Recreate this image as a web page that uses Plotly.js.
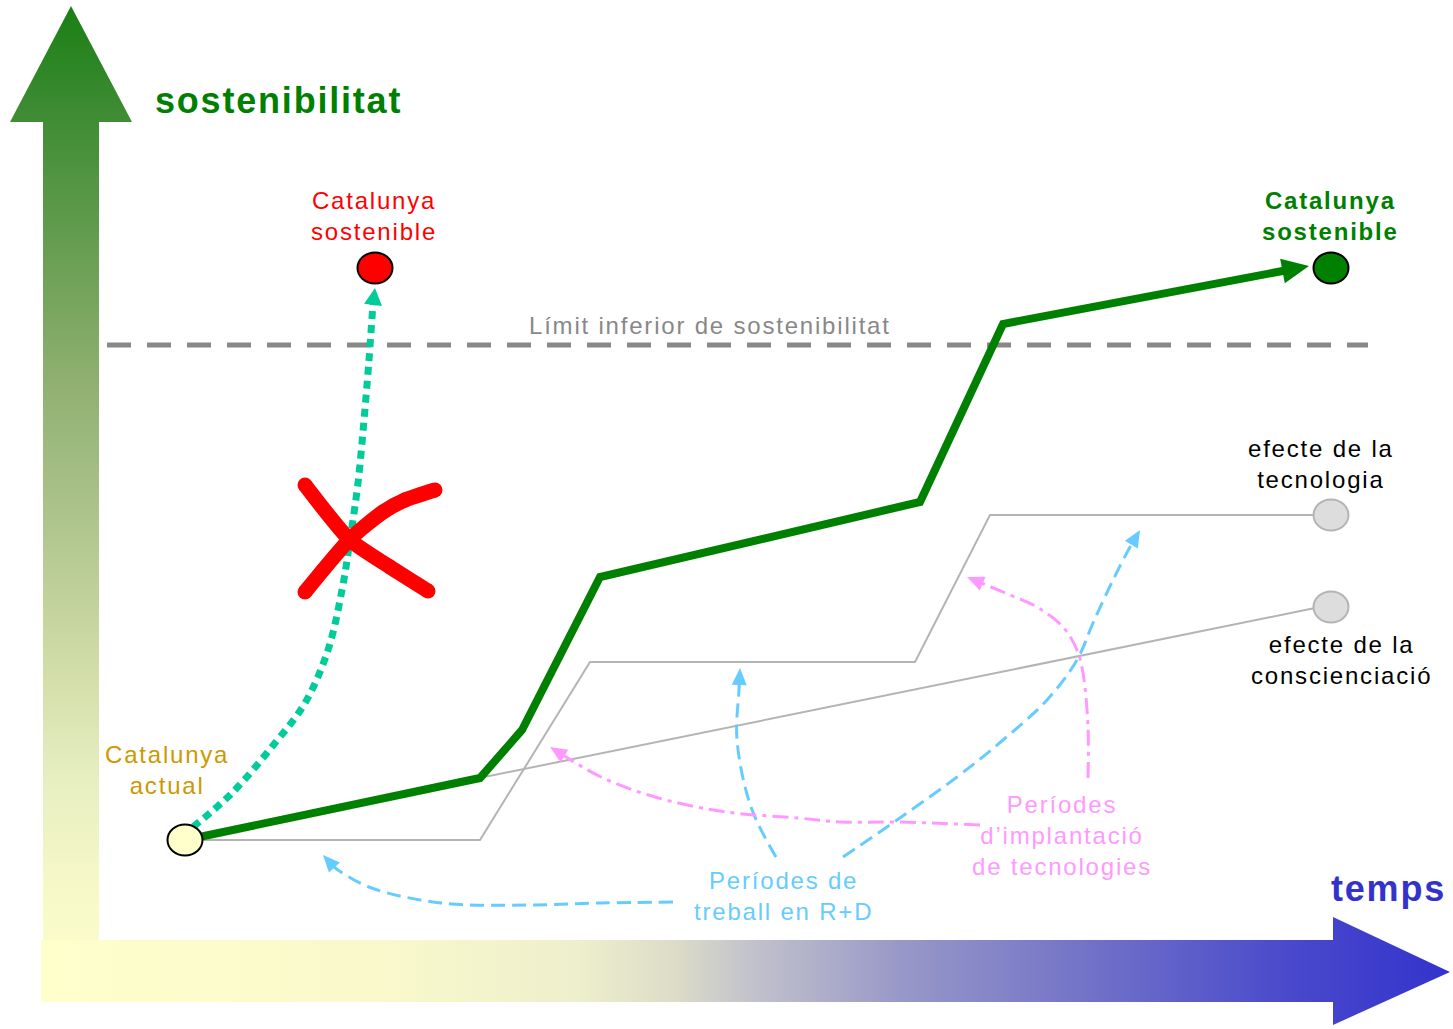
<!DOCTYPE html>
<html>
<head>
<meta charset="utf-8">
<script src="https://cdn.plot.ly/plotly-3.0.1.min.js"></script>
<style>
html,body{margin:0;padding:0;background:#ffffff;}
#chart{width:1453px;height:1029px;}
.annotation-text{letter-spacing:1.8px;}
</style>
</head>
<body>
<div id="chart"></div>
<script>
// ---------------- DATA (diagram units: x = temps, y = sostenibilitat) ----------------
// axis arrows
const timeArrowX = [41, 1333, 1333, 1450, 1333, 1333, 41, 41];
const timeArrowY = [89, 89, 112, 57, 4, 27, 27, 89];
const sustArrowX = [43, 43, 10, 71, 132, 99, 99, 43];
const sustArrowY = [29, 907, 907, 1023, 907, 907, 29, 29];

// lower limit of sustainability
const limitX = [107, 1368];
const limitY = [684, 684];

// main (green) path to a sustainable Catalonia
const pathX = [185, 480, 522, 600, 920, 1003, 1309];
const pathY = [189, 251, 299, 452, 527, 705, 763];

// effect of technology
const techX = [185, 480, 590, 915, 990, 1315];
const techY = [189, 189, 367, 367, 514, 514];

// effect of awareness
const awareX = [185, 1315];
const awareY = [191, 421];

// direct (impossible) route
const directX = [193, 232, 275, 305, 328, 342, 350, 358, 364, 369, 373, 375];
const directY = [202, 236, 286, 326, 379, 439, 489, 546, 609, 669, 724, 741];

// red cross
const crossAX = [305, 350, 390, 428];
const crossAY = [544, 489, 462, 438];
const crossBX = [305, 350, 383, 405, 435];
const crossBY = [437, 490, 517, 529, 539];

// R+D periods (blue dashed arrows)
const rd1X = [673, 601, 530, 441, 369, 334, 323];
const rd1Y = [127, 126, 124, 126, 142, 162, 174];
const rd2X = [776, 751, 737, 739, 740];
const rd2Y = [172, 222, 289, 339, 361];
const rd3X = [843, 897, 957, 1003, 1047, 1077, 1093, 1113, 1130, 1140];
const rd3Y = [172, 209, 252, 289, 329, 369, 406, 449, 482, 499];

// technology implementation periods (pink dash-dot arrows)
const imp1X = [980, 897, 840, 798, 726, 655, 601, 566, 550];
const imp1Y = [204, 207, 207, 211, 217, 232, 252, 272, 282];
const imp2X = [1088, 1088, 1083, 1077, 1063, 1037, 1010, 967];
const imp2Y = [251, 302, 356, 379, 402, 422, 434, 452];

// nodes
const nodeX = [185, 375, 1331, 1331, 1331];
const nodeY = [189, 761, 761, 514, 422];

// labels
const labelText = [
  'sostenibilitat',
  'temps',
  'Límit inferior de sostenibilitat',
  'Catalunya<br>sostenible',
  'Catalunya<br>sostenible',
  'efecte de la<br>tecnologia',
  'efecte de la<br>conscienciació',
  'Catalunya<br>actual',
  'Períodes<br>d’implantació<br>de tecnologies',
  'Períodes de<br>treball en R+D'
];

// ---------------- STYLES / POSITIONS ----------------
const FONT = 'Liberation Sans, Arial, sans-serif';
const nodeFill = ['#ffffcc', '#ff0000', '#008000', '#dddddd', '#dddddd'];
const nodeLine = ['#000000', '#000000', '#000000', '#b4b4b4', '#b4b4b4'];
const labelPos = [
  {x: 153, y: 929, xa: 'left', size: 36, bold: true, color: '#008000'},
  {x: 1448, y: 141, xa: 'right', size: 36, bold: true, color: '#3333cc'},
  {x: 710, y: 704, xa: 'center', size: 24, bold: false, color: '#888888'},
  {x: 374, y: 813, xa: 'center', size: 24, bold: false, color: '#ff0000'},
  {x: 1330, y: 813, xa: 'center', size: 24, bold: true, color: '#008000'},
  {x: 1321, y: 565, xa: 'center', size: 24, bold: false, color: '#000000'},
  {x: 1341, y: 369, xa: 'center', size: 24, bold: false, color: '#000000'},
  {x: 167, y: 259, xa: 'center', size: 24, bold: false, color: '#cc9900'},
  {x: 1062, y: 194, xa: 'center', size: 24, bold: false, color: '#ff99ff'},
  {x: 783, y: 133, xa: 'center', size: 24, bold: false, color: '#66ccff'}
];

// arrow head polygon from the last two points of a series
function headOf(xs, ys, L, W) {
  const n = xs.length;
  const tx = xs[n - 1], ty = ys[n - 1];
  const dx = tx - xs[n - 2], dy = ty - ys[n - 2];
  const d = Math.hypot(dx, dy);
  const ux = dx / d, uy = dy / d;
  const bx = tx - L * ux, by = ty - L * uy;
  const nx = -uy, ny = ux;
  return {
    hx: [tx, bx + W / 2 * nx, bx - W / 2 * nx, tx],
    hy: [ty, by + W / 2 * ny, by - W / 2 * ny, ty],
    lx: xs.slice(0, n - 1).concat([tx - 0.6 * L * ux]),
    ly: ys.slice(0, n - 1).concat([ty - 0.6 * L * uy])
  };
}

const traces = [];
function arrowLine(xs, ys, color, width, dash, shape, L, W) {
  const h = headOf(xs, ys, L, W);
  traces.push({x: h.lx, y: h.ly, mode: 'lines', hoverinfo: 'skip',
    line: {color: color, width: width, dash: dash, shape: shape, smoothing: 1}});
  traces.push({x: h.hx, y: h.hy, mode: 'lines', fill: 'toself', fillcolor: color,
    line: {width: 0, color: color}, hoverinfo: 'skip'});
}

// axis arrows with gradients
traces.push({x: sustArrowX, y: sustArrowY, mode: 'lines', fill: 'toself', line: {width: 0},
  hoverinfo: 'skip',
  fillgradient: {type: 'vertical', start: 29, stop: 1023, colorscale: [
    [0, '#ffffcc'], [0.115, '#f6f8c8'], [0.227, '#e6eec0'], [0.34, '#d0dca8'],
    [0.51, '#a8c088'], [0.623, '#8fb070'], [0.905, '#3a8a30'], [1, '#1a7f14']]}});
traces.push({x: timeArrowX, y: timeArrowY, mode: 'lines', fill: 'toself', line: {width: 0},
  hoverinfo: 'skip',
  fillgradient: {type: 'horizontal', start: 41, stop: 1450, colorscale: [
    [0, '#ffffcc'], [0.255, '#f8f8cc'], [0.38, '#eeefcc'], [0.45, '#dcdcc8'],
    [0.5, '#c4c4cc'], [0.61, '#9898c8'], [0.75, '#7070c8'], [0.89, '#4848cc'], [1, '#3333cc']]}});

// limit
traces.push({x: limitX, y: limitY, mode: 'lines', hoverinfo: 'skip',
  line: {color: '#888888', width: 5, dash: '24px,16px'}});

// gray effect lines
traces.push({x: techX, y: techY, mode: 'lines', hoverinfo: 'skip', line: {color: '#b4b4b4', width: 2}});
traces.push({x: awareX, y: awareY, mode: 'lines', hoverinfo: 'skip', line: {color: '#b4b4b4', width: 2}});

// blue and pink arrows
arrowLine(rd1X, rd1Y, '#66ccff', 3, '14px,7px', 'spline', 17, 15);
arrowLine(rd2X, rd2Y, '#66ccff', 3, '14px,7px', 'spline', 17, 15);
arrowLine(rd3X, rd3Y, '#66ccff', 3, '14px,7px', 'spline', 17, 15);
arrowLine(imp1X, imp1Y, '#ff99ff', 3, '16px,6px,4px,6px', 'spline', 17, 15);
arrowLine(imp2X, imp2Y, '#ff99ff', 3, '16px,6px,4px,6px', 'spline', 17, 15);

// green main path
arrowLine(pathX, pathY, '#008000', 8, 'solid', 'linear', 27, 25);

// direct route
arrowLine(directX, directY, '#00cc99', 7, '8px,6px', 'spline', 17, 18);

// red cross
traces.push({x: crossAX, y: crossAY, mode: 'lines+markers', hoverinfo: 'skip',
  line: {color: '#ff0000', width: 15, shape: 'spline', smoothing: 0.6},
  marker: {color: '#ff0000', size: 15}});
traces.push({x: crossBX, y: crossBY, mode: 'lines+markers', hoverinfo: 'skip',
  line: {color: '#ff0000', width: 15, shape: 'spline', smoothing: 0.6},
  marker: {color: '#ff0000', size: 15}});

// node ellipses
const RX = 17.5, RY = 15.5;
const shapes = nodeX.map((cx, i) => ({
  type: 'circle', xref: 'x', yref: 'y', layer: 'above',
  x0: cx - RX, x1: cx + RX, y0: nodeY[i] - RY, y1: nodeY[i] + RY,
  fillcolor: nodeFill[i], line: {color: nodeLine[i], width: 2}
}));

const annotations = labelText.map((t, i) => {
  const p = labelPos[i];
  return {
    x: p.x, y: p.y, xref: 'x', yref: 'y', text: t, showarrow: false,
    xanchor: p.xa, yanchor: 'middle', align: 'center',
    font: {family: FONT, size: p.size, color: p.color, weight: p.bold ? 'bold' : 'normal'}
  };
});

const layout = {
  width: 1453, height: 1029,
  margin: {l: 0, r: 0, t: 0, b: 0, pad: 0},
  paper_bgcolor: '#ffffff', plot_bgcolor: '#ffffff',
  showlegend: false,
  xaxis: {range: [0, 1453], visible: false, fixedrange: true},
  yaxis: {range: [0, 1029], visible: false, fixedrange: true},
  shapes: shapes,
  annotations: annotations,
  font: {family: FONT}
};

Plotly.newPlot('chart', traces, layout, {staticPlot: true, displayModeBar: false});
</script>
</body>
</html>
